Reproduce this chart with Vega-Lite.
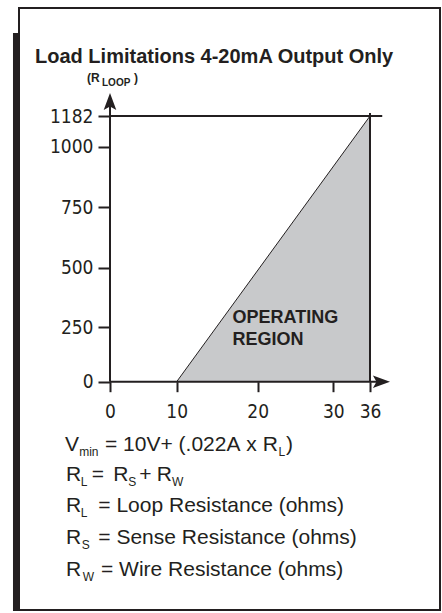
{
  "$schema": "https://vega.github.io/schema/vega-lite/v6.json",
  "width": 421,
  "height": 602,
  "autosize": {"type": "none"},
  "padding": {"left": 19, "top": 8, "right": 2, "bottom": 3},
  "background": "white",
  "config": {
    "view": {"stroke": "#231f20", "strokeWidth": 2},
    "font": "Liberation Sans",
    "text": {"color": "#231f20", "align": "left", "baseline": "alphabetic"}
  },
  "datasets": {
    "region": [{"x": 10, "y": 0}, {"x": 36, "y": 1182}],
    "lines": [
      {"x": 0, "x2": 0, "y": 0, "y2": 1250},
      {"x": 0, "x2": 37.5, "y": 0, "y2": 0},
      {"x": 0, "x2": 38, "y": 1182, "y2": 1182},
      {"x": 36, "x2": 36, "y": 0, "y2": 1200}
    ],
    "bar": [{"x": -14.02, "y": 1674, "y2": -1054}],
    "arrows": [{"x": 0, "y": 1265, "dir": "up"}, {"x": 37.8, "y": 0, "dir": "right"}],
    "labels": [
      {"t": "Load Limitations 4-20mA Output Only", "x": -11.24, "y": 1496, "kind": "title"},
      {"t": "(R", "x": -3.45, "y": 1383.6, "kind": "ylab"},
      {"t": "LOOP", "x": -1.2, "y": 1383.6, "kind": "ylabsub"},
      {"t": ")", "x": 3.6, "y": 1383.6, "kind": "ylab"},
      {"t": "OPERATING", "x": 16.9, "y": 268, "kind": "region"},
      {"t": "REGION", "x": 16.9, "y": 169, "kind": "region"},
      {"t": "V", "x": -6.75, "y": -316.2, "kind": "eq"},
      {"t": "min", "x": -4.62, "y": -316.2, "kind": "eqsub"},
      {"t": "= 10V+ (.022A", "x": -0.75, "y": -316.2, "kind": "eq"},
      {"t": "x R", "x": 18.6, "y": -316.2, "kind": "eq"},
      {"t": "L", "x": 22.75, "y": -316.2, "kind": "eqsub"},
      {"t": ")", "x": 23.75, "y": -316.2, "kind": "eq"},
      {"t": "R", "x": -6.6, "y": -458.6, "kind": "eq"},
      {"t": "L", "x": -4.39, "y": -458.6, "kind": "eqsub"},
      {"t": "=", "x": -2.74, "y": -458.6, "kind": "eq"},
      {"t": "R", "x": 0.5, "y": -458.6, "kind": "eq"},
      {"t": "S", "x": 2.75, "y": -458.6, "kind": "eqsub"},
      {"t": "+", "x": 4.4, "y": -458.6, "kind": "eq"},
      {"t": "R", "x": 7.0, "y": -458.6, "kind": "eq"},
      {"t": "W", "x": 9.3, "y": -458.6, "kind": "eqsub"},
      {"t": "R", "x": -6.6, "y": -598.8, "kind": "eq"},
      {"t": "L", "x": -4.39, "y": -598.8, "kind": "eqsub"},
      {"t": "= Loop Resistance (ohms)", "x": -1.75, "y": -598.8, "kind": "eq"},
      {"t": "R", "x": -6.6, "y": -743.6, "kind": "eq"},
      {"t": "S", "x": -4.24, "y": -743.6, "kind": "eqsub"},
      {"t": "= Sense Resistance (ohms)", "x": -1.75, "y": -743.6, "kind": "eq"},
      {"t": "R", "x": -6.6, "y": -892.9, "kind": "eq"},
      {"t": "W", "x": -4.09, "y": -892.9, "kind": "eqsub"},
      {"t": "= Wire Resistance (ohms)", "x": -1.35, "y": -892.9, "kind": "eq"}
    ]
  },
  "encoding": {
    "x": {
      "field": "x",
      "type": "quantitative",
      "scale": {"domain": [0, 10, 20, 30, 36], "range": [91, 157.7, 238.7, 314.3, 351], "nice": false, "zero": false},
      "axis": {
        "values": [0, 10, 20, 30, 36],
        "format": "d",
        "title": null,
        "grid": false,
        "domain": false,
        "offset": -228.3,
        "tickSize": 10,
        "tickWidth": 2,
        "tickColor": "#231f20",
        "labelFont": "DejaVu Sans Condensed, Liberation Sans, sans-serif",
        "labelFontSize": 19,
        "labelColor": "#231f20",
        "labelPadding": 11,
        "labelFlush": false,
        "labelOverlap": false
      }
    },
    "y": {
      "field": "y",
      "type": "quantitative",
      "scale": {"domain": [0, 250, 500, 750, 1000, 1182], "range": [373.7, 319.3, 259.7, 199.3, 138.7, 108], "nice": false, "zero": false},
      "axis": {
        "values": [0, 250, 500, 750, 1000, 1182],
        "format": "d",
        "title": null,
        "grid": false,
        "domain": false,
        "offset": -91,
        "tickSize": 12,
        "tickWidth": 2,
        "tickColor": "#231f20",
        "labelFont": "DejaVu Sans Condensed, Liberation Sans, sans-serif",
        "labelFontSize": 19,
        "labelColor": "#231f20",
        "labelPadding": 5,
        "labelFlush": false,
        "labelOverlap": false
      }
    }
  },
  "layer": [
    {
      "data": {"name": "region"},
      "mark": {"type": "area", "color": "#c8c9cb"},
      "encoding": {"y2": {"datum": 0}}
    },
    {
      "data": {"name": "region"},
      "mark": {"type": "line", "color": "#231f20", "strokeWidth": 1}
    },
    {
      "data": {"name": "lines"},
      "mark": {"type": "rule", "color": "#231f20", "strokeWidth": 2},
      "encoding": {"x2": {"field": "x2"}, "y2": {"field": "y2"}}
    },
    {
      "data": {"name": "bar"},
      "mark": {"type": "rule", "color": "#231f20", "strokeWidth": 7},
      "encoding": {"y2": {"field": "y2"}}
    },
    {
      "data": {"name": "arrows"},
      "mark": {"type": "point", "filled": true, "opacity": 1, "color": "#231f20", "size": 324},
      "encoding": {
        "shape": {
          "field": "dir",
          "type": "nominal",
          "scale": {"domain": ["up", "right"], "range": ["M0,-1L0.7,0.9L0,0.5L-0.7,0.9Z", "M1,0L-0.9,0.7L-0.5,0L-0.9,-0.7Z"]},
          "legend": null
        }
      }
    },
    {
      "data": {"name": "labels"},
      "transform": [{"filter": "datum.kind === 'title'"}],
      "mark": {"type": "text", "fontSize": 20, "fontWeight": "bold"},
      "encoding": {"text": {"field": "t"}}
    },
    {
      "data": {"name": "labels"},
      "transform": [{"filter": "datum.kind === 'ylab'"}],
      "mark": {"type": "text", "fontSize": 12, "fontWeight": "bold"},
      "encoding": {"text": {"field": "t"}}
    },
    {
      "data": {"name": "labels"},
      "transform": [{"filter": "datum.kind === 'ylabsub'"}],
      "mark": {"type": "text", "fontSize": 10, "fontWeight": "bold", "dy": 4},
      "encoding": {"text": {"field": "t"}}
    },
    {
      "data": {"name": "labels"},
      "transform": [{"filter": "datum.kind === 'region'"}],
      "mark": {"type": "text", "fontSize": 18, "fontWeight": "bold"},
      "encoding": {"text": {"field": "t"}}
    },
    {
      "data": {"name": "labels"},
      "transform": [{"filter": "datum.kind === 'eq'"}],
      "mark": {"type": "text", "fontSize": 21},
      "encoding": {"text": {"field": "t"}}
    },
    {
      "data": {"name": "labels"},
      "transform": [{"filter": "datum.kind === 'eqsub'"}],
      "mark": {"type": "text", "fontSize": 12, "dy": 5},
      "encoding": {"text": {"field": "t"}}
    }
  ]
}
